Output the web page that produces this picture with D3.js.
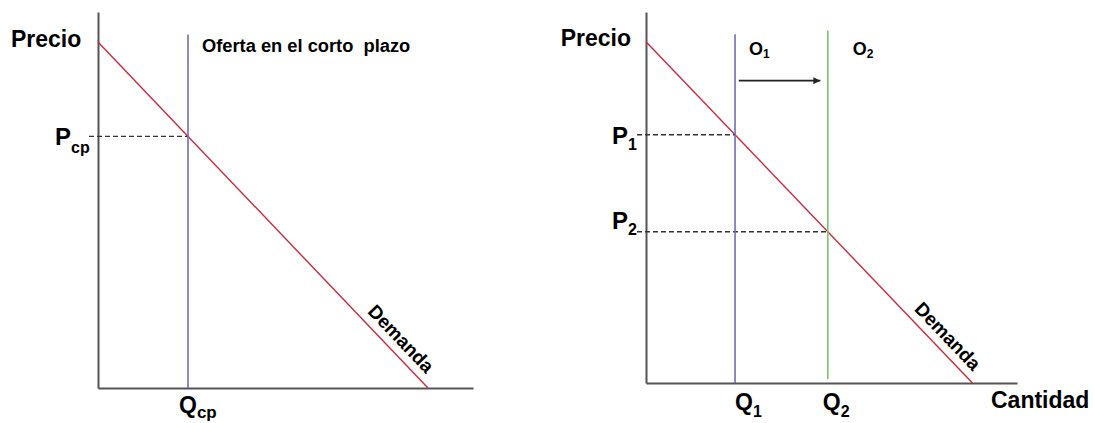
<!DOCTYPE html>
<html><head><meta charset="utf-8">
<script src="https://cdn.jsdelivr.net/npm/d3@7"></script>
<style>
body{margin:0;background:#fff}
text{font-family:Arial,"Liberation Sans",sans-serif;font-weight:bold;fill:#000}
</style>
</head><body>
<svg id="c" width="1095" height="423"></svg>
<script>
// ---- data (quantity / price units on 0..100 scales) ----
const demandLeft = [{q:0, p:92}, {q:88, p:0}];
const demandRight = [{q:0, p:92}, {q:88, p:0}];
const supplyShortRun = {q:24, p0:0, p1:94};
const supplyO1 = {q:24, p0:0, p1:94};
const supplyO2 = {q:49, p0:1, p1:95};
const shiftArrow = {q0:25, q1:47, p:81.5};
const labelsLeft = {price:"Precio", supply:"Oferta en el corto  plazo", pMain:"P", pSub:"cp", qMain:"Q", qSub:"cp", demand:"Demanda"};
const labelsRight = {price:"Precio", qty:"Cantidad", o1:["O","1"], o2:["O","2"], p1:["P","1"], p2:["P","2"], q1:["Q","1"], q2:["Q","2"], demand:"Demanda"};

const svg = d3.select("#c");
const defs = svg.append("defs");
defs.append("marker").attr("id","ah").attr("viewBox","0 0 10 10").attr("refX",10).attr("refY",5)
  .attr("markerWidth",8).attr("markerHeight",7).attr("markerUnits","userSpaceOnUse").attr("orient","auto")
  .append("path").attr("d","M0,0L10,5L0,10Z").attr("fill","#222");

const RED="#cc2a3a", BLUE="#6b70b4", GREEN="#7dc36b", AX="#555";

function priceAt(d, q){ const [a,b]=d; return a.p + (b.p-a.p)*(q-a.q)/(b.q-a.q); }

function panel(x, y, demand){
  const g = svg.append("g");
  g.append("g").attr("transform",`translate(${x.range()[0]},0)`)
    .call(d3.axisLeft(y).tickValues([]).tickSizeOuter(0))
    .select(".domain").attr("stroke",AX).attr("stroke-width",2);
  g.append("g").attr("transform",`translate(0,${y.range()[0]})`)
    .call(d3.axisBottom(x).tickValues([]).tickSizeOuter(0))
    .select(".domain").attr("stroke",AX).attr("stroke-width",2);
  const line = d3.line().x(d=>x(d.q)).y(d=>y(d.p));
  g.append("path").datum(demand).attr("d",line).attr("stroke",RED).attr("stroke-width",1.4).attr("fill","none");
  return g;
}
function vline(g,x,y,s,color){
  g.append("line").attr("x1",x(s.q)).attr("x2",x(s.q)).attr("y1",y(s.p0)).attr("y2",y(s.p1))
   .attr("stroke",color).attr("stroke-width",1.6);
}
function dashed(g,x,y,q,p){
  g.append("line").attr("x1",x(0)-9).attr("x2",x(q)).attr("y1",y(p)).attr("y2",y(p))
   .attr("stroke","#333").attr("stroke-width",1.3).attr("stroke-dasharray","5,3");
}
function sublabel(g,xs,ys,main,sub,fs,sfs,dyS,anchor){
  const t = g.append("text").attr("x",xs).attr("y",ys).attr("font-size",fs);
  t.append("tspan").text(main);
  t.append("tspan").attr("font-size",sfs).attr("dy",dyS).text(sub);
  if(anchor) t.attr("text-anchor",anchor);
  return t;
}
function demandLabel(g,x,y,demand,q,text,fs){
  const p = priceAt(demand,q);
  const [a,b]=demand;
  const ang = Math.atan2(y(b.p)-y(a.p), x(b.q)-x(a.q))*180/Math.PI;
  g.append("text").attr("transform",`translate(${x(q)},${y(p)}) rotate(${ang})`)
   .attr("text-anchor","middle").attr("dy",-8).attr("font-size",fs).text(text);
}

// ---- left panel ----
const xL = d3.scaleLinear().domain([0,100]).range([98,473]);
const yL = d3.scaleLinear().domain([0,100]).range([388,12]);
const gL = panel(xL,yL,demandLeft);
const pcp = priceAt(demandLeft, supplyShortRun.q);
dashed(gL,xL,yL,supplyShortRun.q,pcp);
vline(gL,xL,yL,supplyShortRun,BLUE);
gL.append("text").attr("x",11).attr("y",47).attr("font-size",23).text(labelsLeft.price);
gL.append("text").attr("x",xL(supplyShortRun.q)+14).attr("y",52).attr("font-size",18.3).style("white-space","pre").attr("xml:space","preserve").text(labelsLeft.supply);
sublabel(gL,55,yL(pcp)+9,labelsLeft.pMain,labelsLeft.pSub,24,16,8);
sublabel(gL,xL(supplyShortRun.q)-9,413,labelsLeft.qMain,labelsLeft.qSub,23,17,5);
demandLabel(gL,xL,yL,demandLeft,78,labelsLeft.demand,19);

// ---- right panel ----
const xR = d3.scaleLinear().domain([0,100]).range([646,1017]);
const yR = d3.scaleLinear().domain([0,100]).range([383,12]);
const gR = panel(xR,yR,demandRight);
const p1 = priceAt(demandRight, supplyO1.q), p2 = priceAt(demandRight, supplyO2.q);
dashed(gR,xR,yR,supplyO1.q,p1);
dashed(gR,xR,yR,supplyO2.q,p2);
vline(gR,xR,yR,supplyO1,BLUE);
vline(gR,xR,yR,supplyO2,GREEN);
gR.append("line").attr("x1",xR(shiftArrow.q0)).attr("x2",xR(shiftArrow.q1))
  .attr("y1",yR(shiftArrow.p)).attr("y2",yR(shiftArrow.p))
  .attr("stroke","#222").attr("stroke-width",1.6).attr("marker-end","url(#ah)");
gR.append("text").attr("x",631).attr("y",46).attr("text-anchor","end").attr("font-size",23).text(labelsRight.price);
gR.append("text").attr("x",991).attr("y",408).attr("font-size",23).text(labelsRight.qty);
sublabel(gR,xR(supplyO1.q)+14,55,labelsRight.o1[0],labelsRight.o1[1],18,12,3);
sublabel(gR,xR(supplyO2.q)+25,55,labelsRight.o2[0],labelsRight.o2[1],18,12,3);
sublabel(gR,612,yR(p1)+9,labelsRight.p1[0],labelsRight.p1[1],24,16,6);
sublabel(gR,612,yR(p2)-3,labelsRight.p2[0],labelsRight.p2[1],24,16,6);
sublabel(gR,xR(supplyO1.q),410,labelsRight.q1[0],labelsRight.q1[1],23,16,7);
sublabel(gR,xR(supplyO2.q)-5,410,labelsRight.q2[0],labelsRight.q2[1],23,16,7);
demandLabel(gR,xR,yR,demandRight,78.5,labelsRight.demand,19);
</script>
</body></html>
